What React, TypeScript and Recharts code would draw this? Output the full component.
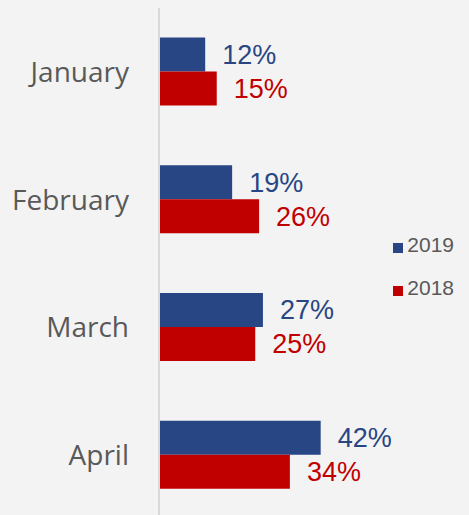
import { Bar, BarChart, LabelList, Legend, XAxis, YAxis } from "recharts"

const months = ["January", "February", "March", "April"]
const share2019 = [12, 19, 27, 42]
const share2018 = [15, 26, 25, 34]

const data = months.map((month, i) => ({
  month,
  y2019: share2019[i],
  y2018: share2018[i],
}))

const BLUE = "#284584"
const RED = "#c00000"

export default function App() {
  return (
    <div style={{ width: 469, height: 515, overflow: "hidden", background: "#f3f3f3" }}>
      <style>{"body{margin:0}"}</style>
      <BarChart
        width={469}
        height={520}
        data={data}
        layout="vertical"
        margin={{ top: 8, right: 6, bottom: 1, left: 0 }}
        barCategoryGap="23%"
        barGap={0}
      >
        <XAxis type="number" hide domain={[0, 60.6]} />
        <YAxis
          type="category"
          dataKey="month"
          width={159}
          tickLine={false}
          tickSize={0}
          tickMargin={30}
          axisLine={{ stroke: "#d9d9d9", strokeWidth: 2 }}
          tick={{ fill: "#595959", fontSize: 28, fontFamily: "Open Sans" }}
        />
        <Legend
          layout="vertical"
          align="right"
          verticalAlign="middle"
          iconType="square"
          iconSize={10}
          itemSorter={(item) => -Number(item.value)}
          wrapperStyle={{ lineHeight: "41px", top: 224, right: 5 }}
          formatter={(value) => (
            <span style={{ color: "#595959", fontFamily: "Liberation Sans", fontSize: 21 }}>{value}</span>
          )}
        />
        <Bar dataKey="y2019" name="2019" fill={BLUE} isAnimationActive={false}>
          <LabelList
            dataKey="y2019"
            position="right"
            offset={17}
            fill={BLUE}
            fontSize={27}
            fontFamily="Liberation Sans"
            formatter={(v: number) => `${v}%`}
          />
        </Bar>
        <Bar dataKey="y2018" name="2018" fill={RED} isAnimationActive={false}>
          <LabelList
            dataKey="y2018"
            position="right"
            offset={17}
            fill={RED}
            fontSize={27}
            fontFamily="Liberation Sans"
            formatter={(v: number) => `${v}%`}
          />
        </Bar>
      </BarChart>
    </div>
  )
}
